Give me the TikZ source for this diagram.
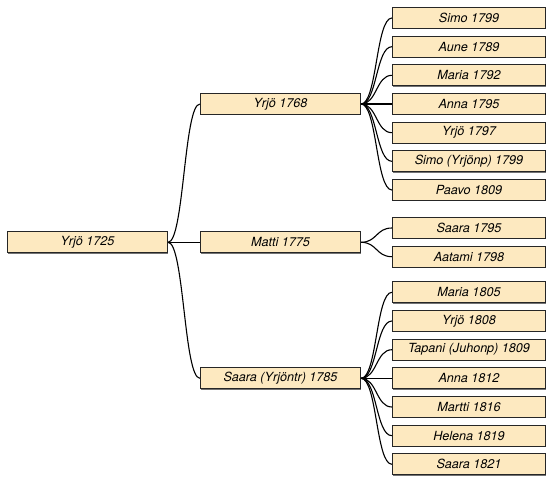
\documentclass[tikz,border=0pt]{standalone}
\usepackage{fontspec}
\setmainfont{TeX Gyre Heros}
\usetikzlibrary{calc,shadows}
\definecolor{boxfill}{RGB}{253,233,192}
\begin{document}
\begin{tikzpicture}[x=1pt,y=-1pt,
  person/.style={draw=black!85, line width=1.1pt, fill=boxfill, minimum height=21pt,
    inner sep=0pt, font=\fontsize{12.6}{14}\selectfont\itshape,
    drop shadow={shadow xshift=0.9pt, shadow yshift=-0.9pt, fill=black, opacity=0.55}},
  rootbox/.style={person, minimum width=160pt},
  midbox/.style={person, minimum width=160pt},
  leafbox/.style={person, minimum width=153pt},
  link/.style={draw=black, line width=1.1pt}]
\useasboundingbox (0,0) rectangle (548,476);
% root
\node[rootbox] (r) at (87.5,242.3) {Yrjö 1725};
% middle
\node[midbox] (m1) at (280.5,104) {Yrjö 1768};
\node[midbox] (m2) at (280.5,242.3) {Matti 1775};
\node[midbox] (m3) at (280.5,378.3) {Saara (Yrjöntr) 1785};
% leaves
\def\lx{469}
\node[leafbox] (a1) at (\lx,18) {Simo 1799};
\node[leafbox] (a2) at (\lx,46.7) {Aune 1789};
\node[leafbox] (a3) at (\lx,75.3) {Maria 1792};
\node[leafbox] (a4) at (\lx,104) {Anna 1795};
\node[leafbox] (a5) at (\lx,132.7) {Yrjö 1797};
\node[leafbox] (a6) at (\lx,161.3) {Simo (Yrjönp) 1799};
\node[leafbox] (a7) at (\lx,190) {Paavo 1809};
\node[leafbox] (b1) at (\lx,228) {Saara 1795};
\node[leafbox] (b2) at (\lx,256.7) {Aatami 1798};
\node[leafbox] (c1) at (\lx,292.3) {Maria 1805};
\node[leafbox] (c2) at (\lx,321) {Yrjö 1808};
\node[leafbox] (c3) at (\lx,349.7) {Tapani (Juhonp) 1809};
\node[leafbox] (c4) at (\lx,378.3) {Anna 1812};
\node[leafbox] (c5) at (\lx,407) {Martti 1816};
\node[leafbox] (c6) at (\lx,435.7) {Helena 1819};
\node[leafbox] (c7) at (\lx,464.3) {Saara 1821};
% links
\foreach \p/\c in {r/m1,r/m2,r/m3,
  m1/a1,m1/a2,m1/a3,m1/a4,m1/a5,m1/a6,m1/a7,
  m2/b1,m2/b2,
  m3/c1,m3/c2,m3/c3,m3/c4,m3/c5,m3/c6,m3/c7}
  \draw[link] (\p.east) .. controls ($(\p.east)+(16,0)$) and ($(\c.west)+(-16,0)$) .. (\c.west);
\end{tikzpicture}
\end{document}
